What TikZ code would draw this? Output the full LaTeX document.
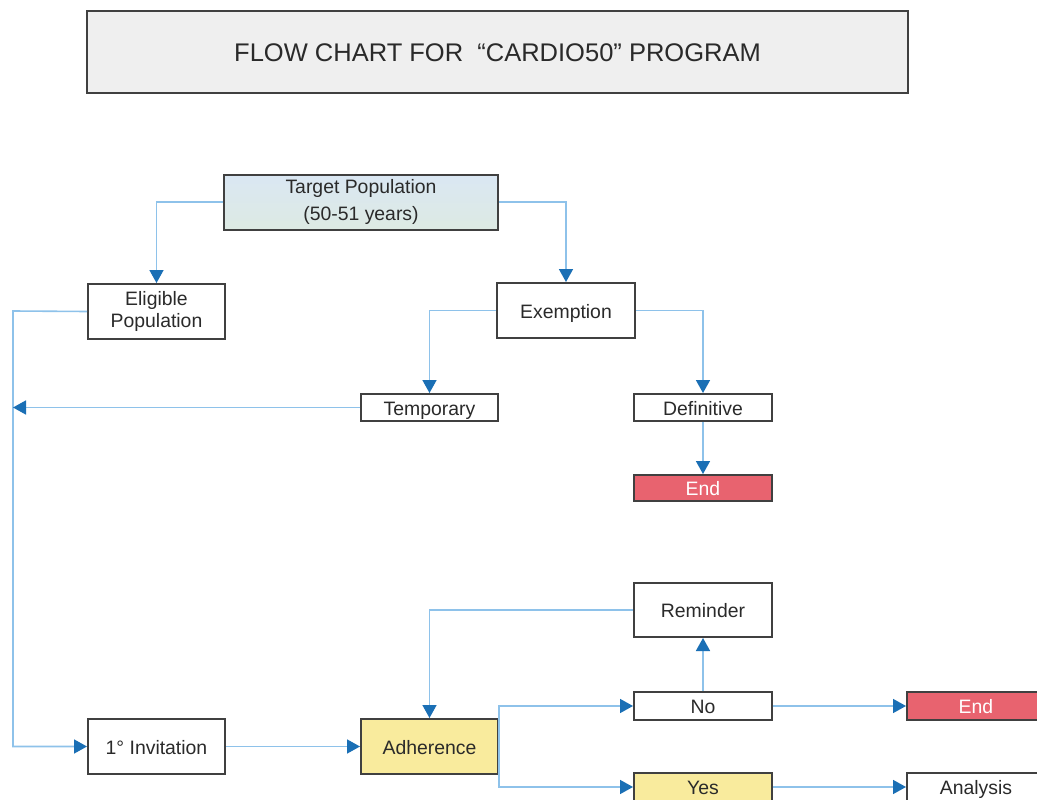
\documentclass[tikz,border=0pt]{standalone}
\usepackage{fontspec}
\setmainfont{Liberation Sans}
\usetikzlibrary{arrows.meta}
\definecolor{linecol}{HTML}{8EC2EA}
\definecolor{tipcol}{HTML}{1A6FB5}
\definecolor{boxline}{HTML}{404040}
\definecolor{txt}{HTML}{2A2A2A}
\definecolor{titlefill}{HTML}{EFEFEF}
\definecolor{redfill}{HTML}{E8636F}
\definecolor{yelfill}{HTML}{F9EB9D}
\definecolor{bluetop}{HTML}{DAE7F3}
\definecolor{bluebot}{HTML}{DDEAE3}
\tikzset{
  box/.style={draw=boxline, line width=2pt, fill=white, text=txt,
    inner sep=0pt, align=center, font=\fontsize{19.4}{27}\selectfont},
  single/.style={text height=17pt, text depth=2pt},
  conn/.style={draw=linecol, line width=1.6pt,
    -{Triangle[length=13pt,width=14pt,color=tipcol,fill=tipcol]}},
}
\begin{document}
\begin{tikzpicture}[x=1pt,y=-1pt]
\clip (0,0) rectangle (1037,800);
\fill[white] (0,0) rectangle (1037,800);
% title
\node[box, text height=21.5pt, text depth=2.5pt, fill=titlefill, minimum width=821, minimum height=82,
  font=\fontsize{25.5}{30}\selectfont] (title) at (497.5,52)
  {FLOW CHART FOR \ “CARDIO50” PROGRAM};
% nodes
\node[box, top color=bluetop, bottom color=bluebot, minimum width=274, minimum height=55] (tp) at (361,202) {Target Population\\(50-51 years)};
\node[box, minimum width=137, minimum height=55, font=\fontsize{19.4}{22}\selectfont] (el) at (156.5,311.5) {Eligible\\Population};
\node[box, single, minimum width=138, minimum height=55] (ex) at (566,310.5) {Exemption};
\node[box, single, minimum width=137, minimum height=27] (temp) at (429.5,407.5) {Temporary};
\node[box, single, minimum width=138, minimum height=27] (def) at (703,407.5) {Definitive};
\node[box, single, fill=redfill, text=white, minimum width=138, minimum height=26] (end1) at (703,488) {End};
\node[box, single, minimum width=138, minimum height=54] (rem) at (703,610) {Reminder};
\node[box, single, minimum width=138, minimum height=28] (no) at (703,706) {No};
\node[box, single, fill=redfill, text=white, minimum width=138, minimum height=28] (end2) at (976,706) {End};
\node[box, single, minimum width=137, minimum height=55] (inv) at (156.5,746.5) {1° Invitation};
\node[box, single, fill=yelfill, minimum width=137, minimum height=55] (adh) at (429.5,746.5) {Adherence};
\node[box, single, fill=yelfill, minimum width=138, minimum height=28] (yes) at (703,787) {Yes};
\node[box, single, minimum width=138, minimum height=28] (anal) at (976,787) {Analysis};
% rail coordinates
\coordinate (railtop) at (13,311);
\coordinate (railtemp) at (13,407.5);
% connectors
\draw[conn] (tp.west) -| (el.north);
\draw[conn] (tp.east) -| (ex.north);
\draw[conn] (el.west) -- (railtop) |- (inv.west);
\draw[conn] (temp.west) -- (railtemp);
\draw[conn] (ex.west) -| (temp.north);
\draw[conn] (ex.east) -| (def.north);
\draw[conn] (def) -- (end1);
\draw[conn] (inv) -- (adh);
\draw[conn] (rem.west) -| (adh.north);
\draw[conn] (adh.east) |- (no.west);
\draw[conn] (adh.east) |- (yes.west);
\draw[conn] (no) -- (rem);
\draw[conn] (no) -- (end2);
\draw[conn] (yes) -- (anal);
\end{tikzpicture}
\end{document}
